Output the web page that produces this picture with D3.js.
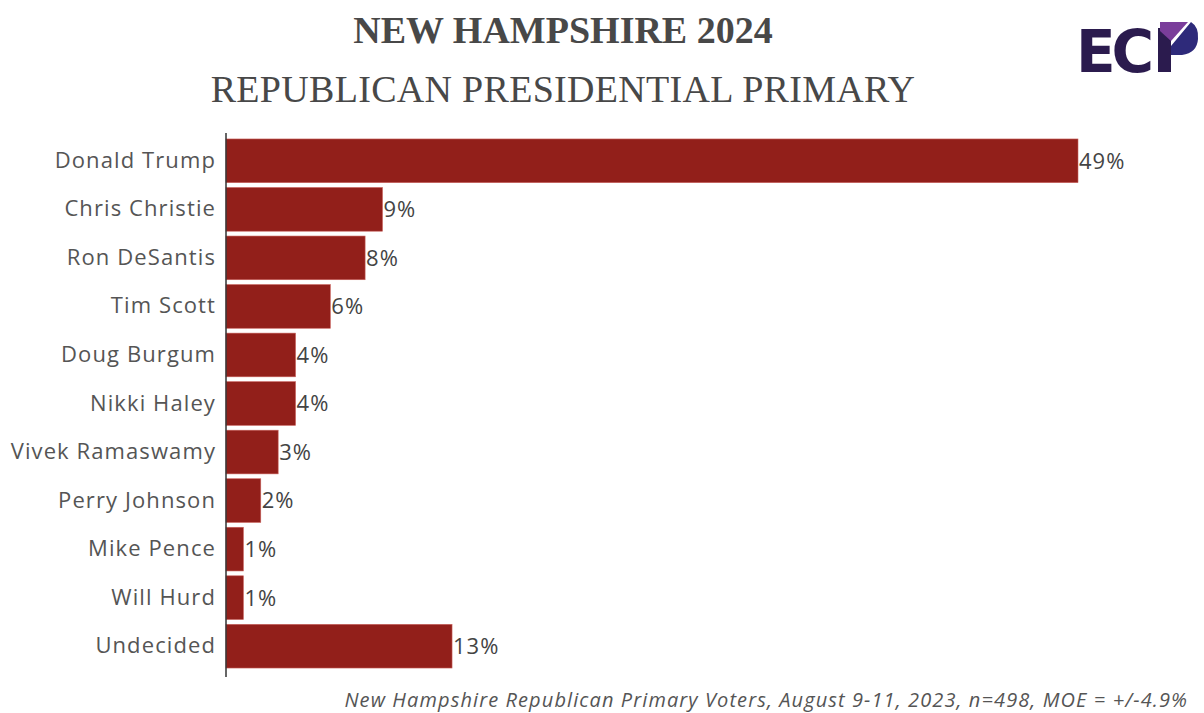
<!DOCTYPE html>
<html>
<head>
<meta charset="utf-8">
<script src="https://cdn.jsdelivr.net/npm/d3@7"></script>
<style>
  body { margin: 0; background: #fff; }
  svg { display: block; }
</style>
</head>
<body>
<div id="chart"></div>
<script>
const candidates = [
  'Donald Trump', 'Chris Christie', 'Ron DeSantis', 'Tim Scott', 'Doug Burgum',
  'Nikki Haley', 'Vivek Ramaswamy', 'Perry Johnson', 'Mike Pence', 'Will Hurd', 'Undecided'
];
const shares = [49, 9, 8, 6, 4, 4, 3, 2, 1, 1, 13];
const titleLines = ['NEW HAMPSHIRE 2024', 'REPUBLICAN PRESIDENTIAL PRIMARY'];
const footnote = 'New Hampshire Republican Primary Voters, August 9-11, 2023, n=498, MOE = +/-4.9%';

const W = 1204, H = 713;
const margin = {top: 138, left: 226, right: 126, bottom: 44};
const sans = '"Open Sans", Lato, sans-serif';

const svg = d3.select('#chart').append('svg')
  .attr('width', W)
  .attr('height', H);

const data = candidates.map((name, i) => ({name: name, value: shares[i]}));

const x = d3.scaleLinear()
  .domain([0, 49])
  .range([margin.left, W - margin.right]);

const y = d3.scaleBand()
  .domain(candidates)
  .range([margin.top, H - margin.bottom])
  .paddingInner(0.1)
  .paddingOuter(0.02);

// title
svg.selectAll('.title')
  .data(titleLines)
  .enter()
  .append('text')
  .attr('x', 563)
  .attr('y', (d, i) => 43 + i * 59)
  .attr('text-anchor', 'middle')
  .style('font-family', '"Liberation Serif", "DejaVu Serif", serif')
  .style('font-size', '38px')
  .style('font-weight', (d, i) => i === 0 ? 'bold' : 'normal')
  .style('letter-spacing', (d, i) => i === 0 ? '0px' : '0.3px')
  .style('fill', '#484848')
  .text(d => d);

// bars
svg.selectAll('.bar')
  .data(data)
  .enter()
  .append('rect')
  .attr('x', x(0))
  .attr('y', d => y(d.name))
  .attr('width', d => x(d.value) - x(0))
  .attr('height', y.bandwidth())
  .style('fill', '#921f1a')
  .style('stroke', '#c9615c')
  .style('stroke-width', 0.6);

// value labels
svg.selectAll('.val')
  .data(data)
  .enter()
  .append('text')
  .attr('x', d => x(d.value) + 1)
  .attr('y', d => y(d.name) + y.bandwidth() / 2)
  .attr('dy', '0.36em')
  .style('font-family', sans)
  .style('font-size', '22px')
  .style('letter-spacing', '1px')
  .style('fill', '#444')
  .text(d => d.value + '%');

// y axis
const yAxis = svg.append('g')
  .attr('transform', 'translate(' + margin.left + ',0)')
  .call(d3.axisLeft(y).tickSize(0).tickPadding(10));
yAxis.select('.domain').remove();
yAxis.selectAll('text')
  .style('font-family', sans)
  .style('font-size', '22px')
  .style('letter-spacing', '1.1px')
  .style('fill', '#555');

svg.append('line')
  .attr('x1', margin.left).attr('x2', margin.left)
  .attr('y1', 133).attr('y2', 677)
  .style('stroke', '#333')
  .style('stroke-width', 1.5);

// footnote
svg.append('text')
  .attr('x', 1188)
  .attr('y', 707)
  .attr('text-anchor', 'end')
  .style('font-family', sans)
  .style('font-style', 'italic')
  .style('font-size', '20px')
  .style('letter-spacing', '1.1px')
  .style('fill', '#555')
  .text(footnote);

// logo
const logo = svg.append('g');
logo.append('text')
  .attr('x', 1076)
  .attr('y', 72)
  .style('font-family', '"DejaVu Sans", sans-serif')
  .style('font-weight', 'bold')
  .style('font-size', '58px')
  .style('letter-spacing', '-4px')
  .style('fill', '#2b1b4e')
  .text('EC');
logo.append('rect')
  .attr('x', 1158).attr('y', 28).attr('width', 13).attr('height', 44)
  .style('fill', '#2b1b4e');
logo.append('path')
  .attr('d', 'M1160,22 L1188,22 L1171,41 L1160,31 Z')
  .style('fill', '#7a3d9a');
logo.append('path')
  .attr('d', 'M1191,22 Q1199,27 1198,39 Q1197,53 1182,55 L1171,55 L1171,46 Z')
  .style('fill', '#2e2a7a');
</script>
</body>
</html>
